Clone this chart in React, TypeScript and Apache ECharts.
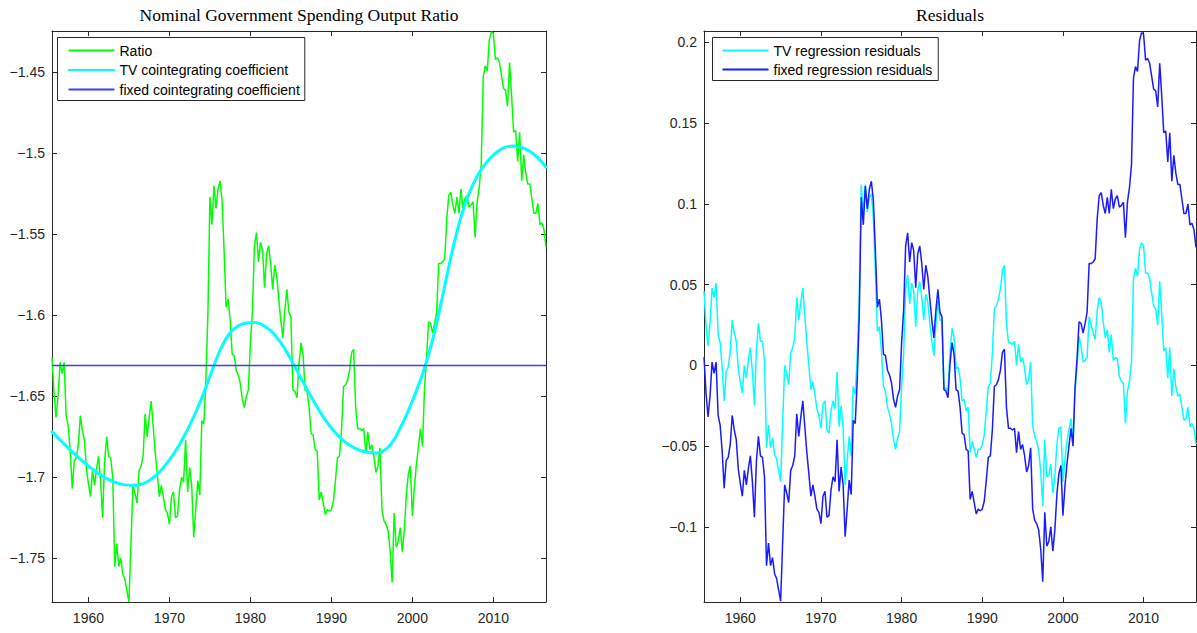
import React, { useEffect, useRef } from "react";
import * as echarts from "echarts";

// Quarterly observations, first one at 1955.5, one every quarter up to 2016.5
const FIRST_DATE = 1955.5;
const QUARTER = 0.25;

// Nominal government spending / output ratio (log)
const ratio = [
  -1.626, -1.648,
  -1.663, -1.650, -1.629, -1.636,
  -1.629, -1.662, -1.668, -1.684,
  -1.707, -1.690, -1.688, -1.680,
  -1.662, -1.671, -1.677, -1.695,
  -1.704, -1.712, -1.696, -1.705,
  -1.695, -1.687, -1.703, -1.725,
  -1.690, -1.675, -1.687, -1.688,
  -1.700, -1.755, -1.741, -1.755,
  -1.750, -1.760, -1.763, -1.770,
  -1.777, -1.741, -1.705, -1.710,
  -1.716, -1.696, -1.693, -1.687,
  -1.661, -1.675, -1.663, -1.653,
  -1.669, -1.685, -1.698, -1.712,
  -1.705, -1.712, -1.720, -1.722,
  -1.729, -1.712, -1.709, -1.725,
  -1.724, -1.708, -1.700, -1.703,
  -1.677, -1.709, -1.694, -1.705,
  -1.737, -1.720, -1.702, -1.711,
  -1.665, -1.667, -1.640, -1.600,
  -1.527, -1.544, -1.520, -1.534,
  -1.522, -1.517, -1.529, -1.560,
  -1.595, -1.590, -1.603, -1.624,
  -1.625, -1.634, -1.637, -1.642,
  -1.652, -1.657, -1.650, -1.646,
  -1.617, -1.597, -1.557, -1.549,
  -1.567, -1.555, -1.560, -1.583,
  -1.562, -1.557, -1.568, -1.584,
  -1.569, -1.576, -1.590, -1.603,
  -1.614, -1.597, -1.584, -1.598,
  -1.601, -1.646, -1.647, -1.651,
  -1.630, -1.617, -1.624, -1.646,
  -1.647, -1.657, -1.673, -1.674,
  -1.683, -1.684, -1.714, -1.709,
  -1.716, -1.723, -1.720, -1.721,
  -1.720, -1.715, -1.702, -1.688,
  -1.687, -1.671, -1.644, -1.643,
  -1.640, -1.634, -1.623, -1.621,
  -1.657, -1.670, -1.670, -1.671,
  -1.670, -1.685, -1.672, -1.683,
  -1.680, -1.687, -1.697, -1.693,
  -1.682, -1.720, -1.727, -1.729,
  -1.733, -1.745, -1.765, -1.722,
  -1.743, -1.740, -1.731, -1.746,
  -1.733, -1.711, -1.698, -1.693,
  -1.724, -1.706, -1.692, -1.681,
  -1.670, -1.681, -1.645, -1.627,
  -1.604, -1.605, -1.611, -1.605,
  -1.598, -1.568, -1.568, -1.567,
  -1.565, -1.540, -1.526, -1.524,
  -1.532, -1.537, -1.527, -1.537,
  -1.522, -1.534, -1.528, -1.526,
  -1.533, -1.532, -1.530, -1.552,
  -1.530, -1.521, -1.507, -1.453,
  -1.446, -1.449, -1.430, -1.425,
  -1.426, -1.442, -1.441, -1.444,
  -1.452, -1.460, -1.461, -1.471,
  -1.444, -1.464, -1.487, -1.486,
  -1.505, -1.487, -1.517, -1.501,
  -1.512, -1.519, -1.519, -1.528,
  -1.537, -1.537, -1.531, -1.544,
  -1.543, -1.547, -1.558,
];

// Time-varying cointegrating coefficient, one value per year (mid-year)
const tvCoefDates = [
  1955.5, 1956.5, 1957.5, 1958.5, 1959.5, 1960.5, 1961.5, 1962.5, 1963.5, 1964.5,
  1965.5, 1966.5, 1967.5, 1968.5, 1969.5, 1970.5, 1971.5, 1972.5, 1973.5, 1974.5,
  1975.5, 1976.5, 1977.5, 1978.5, 1979.5, 1980.5, 1981.5, 1982.5, 1983.5, 1984.5,
  1985.5, 1986.5, 1987.5, 1988.5, 1989.5, 1990.5, 1991.5, 1992.5, 1993.5, 1994.5,
  1995.5, 1996.5, 1997.5, 1998.5, 1999.5, 2000.5, 2001.5, 2002.5, 2003.5, 2004.5,
  2005.5, 2006.5, 2007.5, 2008.5, 2009.5, 2010.5, 2011.5, 2012.5, 2013.5, 2014.5,
  2015.5, 2016.5,
];
const tvCoef = [
  -1.672, -1.677, -1.6819, -1.6866, -1.691, -1.695, -1.6985, -1.7014, -1.7035, -1.7047,
  -1.705, -1.7043, -1.702, -1.698, -1.6925, -1.6857, -1.6775, -1.668, -1.657, -1.6445,
  -1.631, -1.619, -1.6108, -1.6065, -1.6048, -1.6045, -1.606, -1.6095, -1.6152, -1.6228,
  -1.6318, -1.6412, -1.6503, -1.6588, -1.6663, -1.6725, -1.6774, -1.681, -1.6833, -1.6846,
  -1.685, -1.6835, -1.6785, -1.6695, -1.659, -1.6465, -1.6325, -1.615, -1.5935, -1.57,
  -1.5485, -1.5315, -1.519, -1.51, -1.5037, -1.499, -1.4962, -1.4955, -1.4964, -1.4988,
  -1.5028, -1.5085,
];

// Fixed cointegrating coefficient
const fixedCoef = -1.631;

// Residuals of the time-varying regression (quarterly)
const tvResiduals = [
  0.046, 0.025,
  0.012, 0.026, 0.048, 0.042,
  0.051, 0.019, 0.014, -0.001,
  -0.022, -0.004, -0.001, 0.008,
  0.028, 0.020, 0.015, -0.002,
  -0.010, -0.017, 0.000, -0.008,
  0.003, 0.011, -0.004, -0.025,
  0.010, 0.026, 0.015, 0.015,
  0.003, -0.051, -0.037, -0.051,
  -0.045, -0.055, -0.058, -0.065,
  -0.072, -0.036, 0.000, -0.005,
  -0.012, 0.008, 0.011, 0.017,
  0.042, 0.028, 0.039, 0.048,
  0.031, 0.014, 0.000, -0.015,
  -0.010, -0.018, -0.027, -0.031,
  -0.039, -0.024, -0.022, -0.040,
  -0.042, -0.028, -0.022, -0.027,
  -0.004, -0.038, -0.025, -0.039,
  -0.074, -0.059, -0.044, -0.056,
  -0.013, -0.018, 0.006, 0.043,
  0.112, 0.092, 0.112, 0.095,
  0.104, 0.106, 0.091, 0.058,
  0.021, 0.024, 0.009, -0.013,
  -0.016, -0.026, -0.030, -0.036,
  -0.046, -0.052, -0.045, -0.041,
  -0.013, 0.007, 0.047, 0.056,
  0.038, 0.051, 0.046, 0.024,
  0.046, 0.052, 0.042, 0.028,
  0.044, 0.039, 0.026, 0.015,
  0.006, 0.025, 0.040, 0.028,
  0.028, -0.015, -0.014, -0.016,
  0.008, 0.023, 0.018, -0.002,
  -0.001, -0.008, -0.022, -0.021,
  -0.028, -0.026, -0.054, -0.047,
  -0.052, -0.057, -0.052, -0.052,
  -0.049, -0.043, -0.028, -0.013,
  -0.011, 0.007, 0.035, 0.037,
  0.041, 0.047, 0.059, 0.062,
  0.026, 0.014, 0.014, 0.013,
  0.015, 0.000, 0.013, 0.002,
  0.005, -0.002, -0.012, -0.009,
  0.002, -0.037, -0.044, -0.047,
  -0.053, -0.066, -0.087, -0.046,
  -0.069, -0.068, -0.061, -0.079,
  -0.069, -0.049, -0.039, -0.038,
  -0.072, -0.058, -0.047, -0.040,
  -0.033, -0.047, -0.015, -0.001,
  0.018, 0.012, 0.002, 0.003,
  0.005, 0.030, 0.025, 0.020,
  0.016, 0.034, 0.042, 0.039,
  0.027, 0.017, 0.022, 0.008,
  0.019, 0.003, 0.005, 0.004,
  -0.007, -0.010, -0.011, -0.036,
  -0.016, -0.010, 0.002, 0.054,
  0.060, 0.055, 0.072, 0.076,
  0.074, 0.057, 0.057, 0.054,
  0.045, 0.037, 0.035, 0.025,
  0.052, 0.032, 0.009, 0.011,
  -0.008, 0.011, -0.019, -0.002,
  -0.013, -0.019, -0.018, -0.026,
  -0.034, -0.033, -0.026, -0.038,
  -0.036, -0.039, -0.049,
];

// Residuals of the fixed-coefficient regression (quarterly)
const fixedResiduals = [
  0.005, -0.017,
  -0.032, -0.019, 0.002, -0.005,
  0.002, -0.031, -0.037, -0.053,
  -0.076, -0.059, -0.057, -0.049,
  -0.031, -0.040, -0.046, -0.064,
  -0.073, -0.081, -0.065, -0.074,
  -0.064, -0.056, -0.072, -0.094,
  -0.059, -0.044, -0.056, -0.057,
  -0.069, -0.124, -0.110, -0.124,
  -0.119, -0.129, -0.132, -0.139,
  -0.146, -0.110, -0.074, -0.079,
  -0.085, -0.065, -0.062, -0.056,
  -0.030, -0.044, -0.032, -0.022,
  -0.038, -0.054, -0.067, -0.081,
  -0.074, -0.081, -0.089, -0.091,
  -0.098, -0.081, -0.078, -0.094,
  -0.093, -0.077, -0.069, -0.072,
  -0.046, -0.078, -0.063, -0.074,
  -0.106, -0.089, -0.071, -0.080,
  -0.034, -0.036, -0.009, 0.031,
  0.104, 0.087, 0.111, 0.097,
  0.109, 0.114, 0.102, 0.071,
  0.036, 0.041, 0.028, 0.007,
  0.006, -0.003, -0.006, -0.011,
  -0.021, -0.026, -0.019, -0.015,
  0.014, 0.034, 0.074, 0.082,
  0.064, 0.076, 0.071, 0.048,
  0.069, 0.074, 0.063, 0.047,
  0.062, 0.055, 0.041, 0.028,
  0.017, 0.034, 0.047, 0.033,
  0.030, -0.015, -0.016, -0.020,
  0.001, 0.014, 0.007, -0.015,
  -0.016, -0.026, -0.042, -0.043,
  -0.052, -0.053, -0.083, -0.078,
  -0.085, -0.092, -0.089, -0.090,
  -0.089, -0.084, -0.071, -0.057,
  -0.056, -0.040, -0.013, -0.012,
  -0.009, -0.003, 0.008, 0.010,
  -0.026, -0.039, -0.039, -0.040,
  -0.039, -0.054, -0.041, -0.052,
  -0.049, -0.056, -0.066, -0.062,
  -0.051, -0.089, -0.096, -0.098,
  -0.102, -0.114, -0.134, -0.091,
  -0.112, -0.109, -0.100, -0.115,
  -0.102, -0.080, -0.067, -0.062,
  -0.093, -0.075, -0.061, -0.050,
  -0.039, -0.050, -0.014, 0.004,
  0.027, 0.026, 0.020, 0.026,
  0.033, 0.063, 0.063, 0.064,
  0.066, 0.091, 0.105, 0.107,
  0.099, 0.094, 0.104, 0.094,
  0.109, 0.097, 0.103, 0.105,
  0.098, 0.099, 0.101, 0.079,
  0.101, 0.110, 0.124, 0.178,
  0.185, 0.182, 0.201, 0.206,
  0.205, 0.189, 0.190, 0.187,
  0.179, 0.171, 0.170, 0.160,
  0.187, 0.167, 0.144, 0.145,
  0.126, 0.144, 0.114, 0.130,
  0.119, 0.112, 0.112, 0.103,
  0.094, 0.094, 0.100, 0.087,
  0.088, 0.084, 0.073,
];

const DATE_MIN = 1955.5;
const DATE_MAX = 2016.5;
const RATIO_MIN = -1.777;
const RATIO_MAX = -1.4245;
const RESID_MIN = -0.1465;
const RESID_MAX = 0.207;

const titles = ["Nominal Government Spending Output Ratio", "Residuals"];

const AXIS_COLOR = "#262626";
const SANS = "'Liberation Sans', Arial, Helvetica, sans-serif";
const SERIF = "'Liberation Serif', 'Times New Roman', serif";

const dateOf = (i: number) => FIRST_DATE + i * QUARTER;
const pair = (vals: number[]) => vals.map((v, i) => [dateOf(i), v]);

// Tick labels with a typographic minus sign
const fmt = (v: number) => String(+v.toFixed(4)).replace("-", "\u2212");

const tickStyle = { show: true, inside: true, length: 5, lineStyle: { color: AXIS_COLOR } };
const lineStyleAxis = { show: true, onZero: false, lineStyle: { color: AXIS_COLOR, width: 1 } };

function bottomX(gridIndex: number) {
  return {
    type: "value",
    gridIndex,
    min: DATE_MIN,
    max: DATE_MAX,
    splitNumber: 6,
    position: "bottom",
    axisLine: lineStyleAxis,
    axisTick: tickStyle,
    axisLabel: {
      show: true,
      margin: 9,
      color: AXIS_COLOR,
      fontFamily: SANS,
      fontSize: 14,
      showMinLabel: false,
      showMaxLabel: false,
      formatter: (v: number) => fmt(v),
    },
    splitLine: { show: false },
  };
}

function topX(gridIndex: number) {
  return {
    type: "value",
    gridIndex,
    min: DATE_MIN,
    max: DATE_MAX,
    splitNumber: 6,
    position: "top",
    axisLine: lineStyleAxis,
    axisTick: tickStyle,
    axisLabel: { show: false },
    splitLine: { show: false },
  };
}

function sideY(gridIndex: number, min: number, max: number, position: "left" | "right") {
  return {
    type: "value",
    gridIndex,
    min,
    max,
    splitNumber: 7,
    position,
    axisLine: lineStyleAxis,
    axisTick: tickStyle,
    axisLabel:
      position === "left"
        ? {
            show: true,
            margin: 7,
            color: AXIS_COLOR,
            fontFamily: SANS,
            fontSize: 14,
            showMinLabel: false,
            showMaxLabel: false,
            formatter: (v: number) => fmt(v),
          }
        : { show: false },
    splitLine: { show: false },
  };
}

function legendBox(names: string[], left: number, top: number, padding: number[], gap: number) {
  return {
    data: names,
    orient: "vertical",
    left,
    top,
    padding,
    itemWidth: 46,
    itemHeight: 14,
    itemGap: gap,
    borderColor: AXIS_COLOR,
    borderWidth: 1,
    backgroundColor: "#ffffff",
    selectedMode: false,
    // only the line sample, no marker on it
    itemStyle: { opacity: 0, color: "rgba(0,0,0,0)", borderColor: "rgba(0,0,0,0)", borderWidth: 0 },
    textStyle: { fontFamily: SANS, fontSize: 14, color: "#000000" },
  };
}

function titleText(text: string, x: number) {
  return {
    type: "text",
    x,
    y: 15,
    style: {
      text,
      font: `17.5px ${SERIF}`,
      fill: "#000000",
      align: "center",
      verticalAlign: "middle",
      textAlign: "center",
      textVerticalAlign: "middle",
    },
  };
}

export default function App() {
  const ref = useRef<HTMLDivElement>(null);

  useEffect(() => {
    document.body.style.margin = "0";
    if (!ref.current) return;
    const chart = echarts.init(ref.current, undefined, { renderer: "svg" });

    const option = {
      animation: false,
      backgroundColor: "#ffffff",
      grid: [
        { left: 52, top: 31, width: 494, height: 571, containLabel: false },
        { left: 704, top: 31, width: 492, height: 571, containLabel: false },
      ],
      xAxis: [bottomX(0), topX(0), bottomX(1), topX(1)],
      yAxis: [
        sideY(0, RATIO_MIN, RATIO_MAX, "left"),
        sideY(0, RATIO_MIN, RATIO_MAX, "right"),
        sideY(1, RESID_MIN, RESID_MAX, "left"),
        sideY(1, RESID_MIN, RESID_MAX, "right"),
      ],
      legend: [
        legendBox(
          ["Ratio", "TV cointegrating coefficient", "fixed cointegrating coefficient"],
          57.5,
          37.5,
          [6, 5, 4, 10],
          5.5
        ),
        legendBox(
          ["TV regression residuals", "fixed regression residuals"],
          712.5,
          37.5,
          [6, 6, 4, 9],
          5
        ),
      ],
      graphic: [titleText(titles[0], 299), titleText(titles[1], 950)],
      series: [
        {
          name: "Ratio",
          type: "line",
          xAxisIndex: 0,
          yAxisIndex: 0,
          data: pair(ratio),
          showSymbol: false,
          symbol: "none",
          lineStyle: { color: "#00ff00", width: 1.5 },
          itemStyle: { color: "#00ff00" },
        },
        {
          name: "TV cointegrating coefficient",
          type: "line",
          xAxisIndex: 0,
          yAxisIndex: 0,
          data: tvCoef.map((v, i) => [tvCoefDates[i], v]),
          smooth: true,
          showSymbol: false,
          symbol: "none",
          lineStyle: { color: "#00ffff", width: 3, cap: "round", join: "round" },
          itemStyle: { color: "#00ffff" },
        },
        {
          name: "fixed cointegrating coefficient",
          type: "line",
          xAxisIndex: 0,
          yAxisIndex: 0,
          data: [
            [DATE_MIN, fixedCoef],
            [DATE_MAX, fixedCoef],
          ],
          showSymbol: false,
          symbol: "none",
          lineStyle: { color: "#3c3cff", width: 1.5 },
          itemStyle: { color: "#3c3cff" },
        },
        {
          name: "TV regression residuals",
          type: "line",
          xAxisIndex: 2,
          yAxisIndex: 2,
          data: pair(tvResiduals),
          showSymbol: false,
          symbol: "none",
          lineStyle: { color: "#00ffff", width: 1.5 },
          itemStyle: { color: "#00ffff" },
        },
        {
          name: "fixed regression residuals",
          type: "line",
          xAxisIndex: 2,
          yAxisIndex: 2,
          data: pair(fixedResiduals),
          showSymbol: false,
          symbol: "none",
          lineStyle: { color: "#1a1aff", width: 1.5 },
          itemStyle: { color: "#1a1aff" },
        },
      ],
    };

    chart.setOption(option as any);
    return () => {
      chart.dispose();
    };
  }, []);

  return <div ref={ref} style={{ width: 1197, height: 633 }} />;
}
